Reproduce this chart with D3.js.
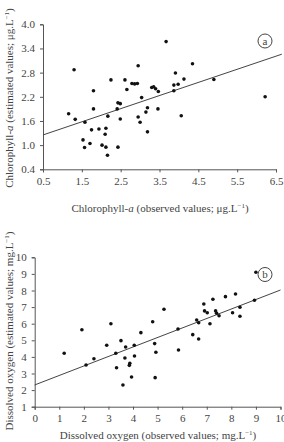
<!DOCTYPE html>
<html>
<head>
<meta charset="utf-8">
<script src="https://cdn.jsdelivr.net/npm/d3@7/dist/d3.min.js"></script>
<style>
body { margin: 0; background: #fff; }
text { font-family: "Liberation Serif", "Times New Roman", serif; fill: #444; }
</style>
</head>
<body>
<div id="chart"></div>
<script>
// panel a: chlorophyll-a
var chlObs = [3.67,1.30,4.35,2.95,3.91,2.25,2.61,4.13,4.90,2.79,2.86,2.93,3.30,3.35,3.40,3.47,3.87,3.98,3.87,1.80,2.66,6.22,3.04,2.43,2.49,1.80,2.41,3.19,3.15,3.46,1.16,4.06,1.33,1.58,2.17,2.49,2.95,3.00,1.75,1.94,2.12,2.10,3.19,1.53,1.71,1.57,2.02,2.12,2.43,2.16];
var chlEst = [3.57,2.87,3.02,2.97,2.79,2.62,2.62,2.64,2.63,2.53,2.52,2.53,2.43,2.45,2.40,2.33,2.49,2.51,2.35,2.35,2.38,2.20,2.18,2.05,2.03,1.90,1.90,1.93,1.82,1.90,1.78,1.73,1.64,1.57,1.72,1.65,1.70,1.57,1.38,1.40,1.42,1.27,1.33,1.13,1.04,0.94,1.00,0.95,0.95,0.75];
var chlTicksX = [0.5,1.5,2.5,3.5,4.5,5.5,6.5];
var chlTicksY = [0.4,1.0,1.6,2.2,2.8,3.4,4.0];
var chlFit = [1.09, 0.326]; // intercept, slope

// panel b: dissolved oxygen
var doObs = [9.00,8.17,7.76,7.25,8.94,6.88,8.35,5.26,6.91,7.02,7.36,7.40,7.50,8.05,8.35,6.59,6.67,7.13,3.10,4.80,1.92,5.83,4.32,6.43,6.67,3.51,4.88,2.93,4.05,3.70,5.85,1.20,3.30,4.93,4.06,3.67,2.41,3.87,3.85,2.09,3.33,3.94,4.90,3.59];
var doEst = [9.10,7.79,7.63,7.47,7.41,7.19,6.99,6.87,6.77,6.66,6.77,6.63,6.48,6.66,6.45,6.22,6.06,6.00,6.00,6.12,5.64,5.68,5.46,5.34,5.08,4.98,4.80,4.70,4.70,4.60,4.42,4.22,4.22,4.28,4.05,3.93,3.89,3.61,3.49,3.51,3.35,2.79,2.75,2.31];
var doTicksX = [0,1,2,3,4,5,6,7,8,9,10];
var doTicksY = [1,2,3,4,5,6,7,8,9,10];
var doFit = [2.31, 0.572];

var svg = d3.select("#chart").append("svg")
    .attr("width", 284)
    .attr("height", 442);

function addLabel(g, x, y, rotate, parts) {
    var t = g.append("text")
        .attr("text-anchor", "middle")
        .attr("font-size", 11)
        .attr("transform", "translate(" + x + "," + y + ")" + (rotate ? " rotate(-90)" : ""));
    parts.forEach(function (p) {
        var s = t.append("tspan").text(p.t);
        if (p.i) s.attr("font-style", "italic");
        if (p.sup) s.attr("font-size", 7).attr("dy", -4);
        if (p.down) s.attr("dy", 4);
    });
}

function drawPanel(opt) {
    var g = svg.append("g");
    var x = d3.scaleLinear().domain(opt.xd).range(opt.xr);
    var y = d3.scaleLinear().domain(opt.yd).range(opt.yr);

    var xAxis = g.append("g")
        .attr("transform", "translate(0," + opt.yr[0] + ")")
        .call(d3.axisBottom(x).tickValues(opt.xt).tickFormat(opt.xf).tickSizeOuter(0).tickSize(3).tickPadding(5));
    var yAxis = g.append("g")
        .attr("transform", "translate(" + opt.xr[0] + ",0)")
        .call(d3.axisLeft(y).tickValues(opt.yt).tickFormat(opt.yf).tickSizeOuter(0).tickSize(3).tickPadding(5));
    [xAxis, yAxis].forEach(function (a) {
        a.selectAll("path, line").attr("stroke", "#555");
        a.selectAll("text").attr("font-size", 11).attr("fill", "#444")
            .attr("font-family", "Liberation Serif, serif");
    });

    g.append("line")
        .attr("x1", x(opt.xd[0]))
        .attr("y1", y(opt.fit[0] + opt.fit[1] * opt.xd[0]))
        .attr("x2", x(opt.lineEnd))
        .attr("y2", y(opt.fit[0] + opt.fit[1] * opt.lineEnd))
        .attr("stroke", "#444")
        .attr("stroke-width", 1);

    g.selectAll(".dot")
        .data(opt.obs)
        .enter()
        .append("circle")
        .attr("class", "dot")
        .attr("cx", function (d) { return x(d); })
        .attr("cy", function (d, i) { return y(opt.est[i]); })
        .attr("r", 1.8)
        .attr("fill", "#111");

    g.append("circle")
        .attr("cx", opt.tag[0])
        .attr("cy", opt.tag[1])
        .attr("r", 7)
        .attr("fill", "#fff")
        .attr("stroke", "#444");
    g.append("text")
        .attr("x", opt.tag[0])
        .attr("y", opt.tag[1] + 3.5)
        .attr("text-anchor", "middle")
        .attr("font-size", 11)
        .text(opt.tagText);

    addLabel(g, opt.xl[0], opt.xl[1], false, opt.xlabel);
    addLabel(g, opt.yl[0], opt.yl[1], true, opt.ylabel);
}

drawPanel({
    xd: [0.5, 6.5], xr: [43, 276],
    yd: [0.4, 4.0], yr: [169.3, 24.3],
    xt: chlTicksX, yt: chlTicksY,
    xf: d3.format(".1f"), yf: d3.format(".1f"),
    obs: chlObs, est: chlEst, fit: chlFit, lineEnd: 6.65,
    tag: [265, 41], tagText: "a",
    xl: [160, 212], yl: [13, 98],
    xlabel: [{t: "Chlorophyll-"}, {t: "a", i: true}, {t: " (observed values; μg.L"}, {t: "−1", sup: true}, {t: ")", down: true}],
    ylabel: [{t: "Chlorophyll-"}, {t: "a", i: true}, {t: " (estimated values; μg.L"}, {t: "−1", sup: true}, {t: ")", down: true}]
});

drawPanel({
    xd: [0, 10], xr: [34.7, 280.5],
    yd: [1, 10], yr: [406.7, 257.3],
    xt: doTicksX, yt: doTicksY,
    xf: d3.format("d"), yf: d3.format("d"),
    obs: doObs, est: doEst, fit: doFit, lineEnd: 10,
    tag: [265, 274.5], tagText: "b",
    xl: [158, 439], yl: [13, 331],
    xlabel: [{t: "Dissolved oxygen (observed values; mg.L"}, {t: "−1", sup: true}, {t: ")", down: true}],
    ylabel: [{t: "Dissolved oxygen (estimated values; mg.L"}, {t: "−1", sup: true}, {t: ")", down: true}]
});
</script>
</body>
</html>
